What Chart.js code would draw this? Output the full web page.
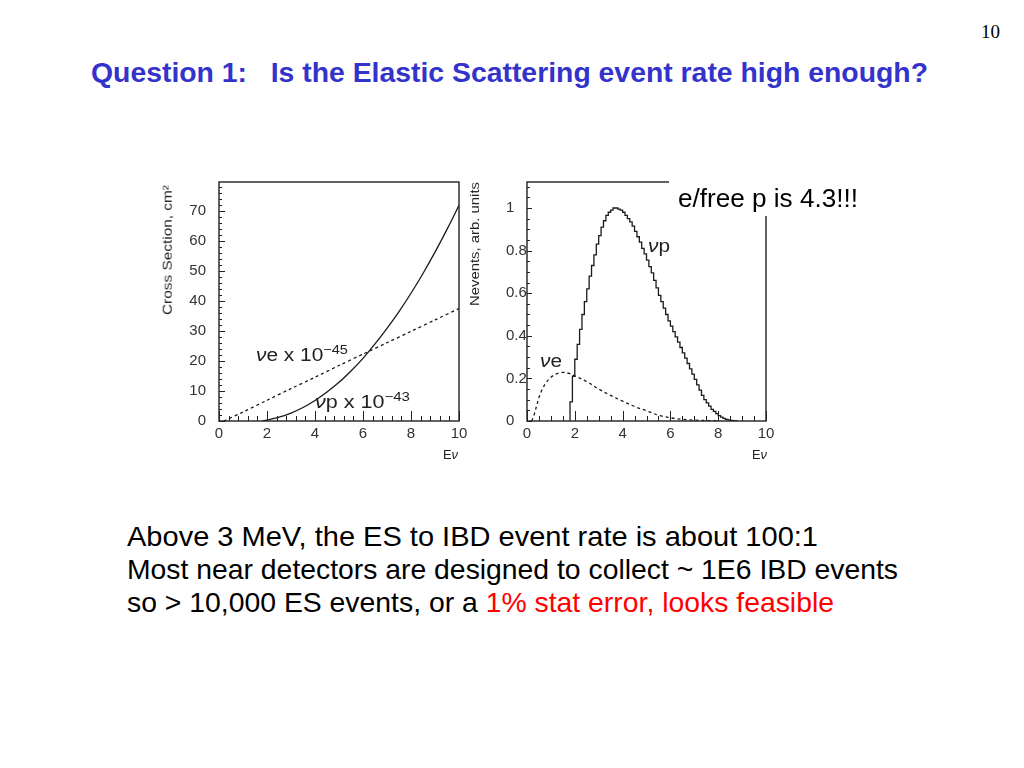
<!DOCTYPE html>
<html><head><meta charset="utf-8">
<script src="https://cdn.jsdelivr.net/npm/chart.js@4.4.1/dist/chart.umd.min.js"></script>
<style>
html,body{margin:0;padding:0;background:#fff;width:1024px;height:768px;overflow:hidden;font-family:"Liberation Sans",Arial,sans-serif;}
.abs{position:absolute;white-space:pre;line-height:1;}
.lab{color:#222;font-family:"Liberation Sans",Arial,sans-serif;}
.lab sup{vertical-align:baseline;position:relative;top:-0.55em;font-size:0.7em;}
.cw{position:absolute;}
</style></head><body>
<div class="abs" style="left:981px;top:22px;font-family:'Liberation Serif',serif;font-size:19px;color:#000;">10</div>
<div class="abs fit" data-w="837" style="left:91px;top:60px;font-size:27px;font-weight:bold;color:#3333cc;">Question 1:   Is the Elastic Scattering event rate high enough?</div>

<div class="cw" style="left:140px;top:172px;width:329px;height:300px;"><canvas id="cv1"></canvas></div>
<div class="cw" style="left:506px;top:172px;width:270px;height:300px;"><canvas id="cv2"></canvas></div>

<div class="abs" style="left:669px;top:168px;width:215px;height:48px;background:#fff;z-index:5;"></div>
<div class="abs fit" data-w="180" style="left:678px;top:185px;font-size:26px;color:#000;z-index:6;">e/free p is 4.3!!!</div>

<div class="abs lab fit" data-w="92" style="left:256px;top:346px;font-size:18px;"><i>ν</i>e x 10<sup>−45</sup></div>
<div class="abs lab fit" data-w="95" style="left:315px;top:393px;font-size:18px;"><i>ν</i>p x 10<sup>−43</sup></div>
<div class="abs lab fit" data-w="22" style="left:648px;top:237px;font-size:18px;"><i>ν</i>p</div>
<div class="abs lab fit" data-w="22" style="left:540px;top:352px;font-size:18px;"><i>ν</i>e</div>
<div class="abs lab fit" data-w="15" style="left:443px;top:448px;font-size:13px;">E<i>ν</i></div>
<div class="abs lab fit" data-w="15" style="left:752px;top:448px;font-size:13px;">E<i>ν</i></div>
<div class="abs lab rot" data-cx="167.5" data-cy="250" data-w="130" style="font-size:12px;">Cross Section, cm²</div>
<div class="abs lab rot" data-cx="475" data-cy="244" data-w="124" style="font-size:12px;">Nevents, arb. units</div>

<div class="abs fit" data-w="691" style="left:127px;top:523px;font-size:28px;color:#000;">Above 3 MeV, the ES to IBD event rate is about 100:1</div>
<div class="abs fit" data-w="771" style="left:127px;top:556px;font-size:28px;color:#000;">Most near detectors are designed to collect ~ 1E6 IBD events</div>
<div class="abs fit" data-w="707" style="left:127px;top:589px;font-size:28px;color:#000;">so &gt; 10,000 ES events, or a <span style="color:#ff0000">1% stat error, looks feasible</span></div>

<script>
// ---- Data ----
// Left panel: cross sections vs neutrino energy (MeV)
const xsecNuEEnergy = [0.2, 1, 2, 3, 4, 5, 6, 7, 8, 9, 10];
const xsecNuE       = [0, 3.0, 6.9, 10.8, 14.6, 18.5, 22.3, 26.1, 29.9, 33.7, 37.5];   // x 1e-45 cm^2
const xsecNuPEnergy = [1.8, 2.0, 2.5, 3.0, 3.5, 4.0, 4.5, 5.0, 5.5, 6.0, 6.5, 7.0, 7.5, 8.0, 8.5, 9.0, 9.5, 10.0];
const xsecNuP       = [0, 0.33, 1.26, 2.65, 4.51, 6.86, 9.67, 12.9, 16.7, 20.9, 25.7, 30.9, 36.5, 42.6, 49.2, 56.3, 63.9, 71.9]; // x 1e-43 cm^2

// Right panel: event spectra (arb. units)
const rateNuPEnergy = [1.8,1.8,1.9,2.0,2.1,2.2,2.3,2.4,2.5,2.6,2.7,2.8,2.9,3.0,3.1,3.2,3.3,3.4,3.5,3.6,3.7,3.8,3.9,4.0,4.1,4.2,4.3,4.4,4.5,4.6,4.7,4.8,4.9,5.0,5.1,5.2,5.3,5.4,5.5,5.6,5.7,5.8,5.9,6.0,6.1,6.2,6.3,6.4,6.5,6.6,6.7,6.8,6.9,7.0,7.1,7.2,7.3,7.4,7.5,7.6,7.7,7.8,7.9,8.0,8.1,8.2,8.3,8.4,8.5,8.6,8.7,8.8];
const rateNuP       = [0,0.09,0.21,0.29,0.36,0.43,0.50,0.56,0.62,0.68,0.73,0.78,0.83,0.87,0.91,0.94,0.965,0.98,0.99,1.0,1.0,0.995,0.99,0.98,0.965,0.95,0.935,0.915,0.89,0.865,0.84,0.81,0.785,0.755,0.725,0.695,0.66,0.625,0.59,0.56,0.53,0.50,0.47,0.445,0.42,0.395,0.37,0.345,0.32,0.295,0.27,0.245,0.22,0.195,0.17,0.145,0.12,0.10,0.085,0.07,0.055,0.045,0.035,0.025,0.018,0.012,0.008,0.005,0.003,0.002,0.001,0];
const rateNuEEnergy = [0.2,0.3,0.4,0.5,0.6,0.8,1.0,1.2,1.5,1.8,2.0,2.5,3.0,3.5,4.0,4.5,5.0,5.5,6.0,6.5,7.0,7.5,8.0];
const rateNuE       = [0,0.03,0.07,0.11,0.14,0.18,0.205,0.22,0.228,0.222,0.212,0.185,0.15,0.12,0.093,0.068,0.048,0.027,0.015,0.008,0.004,0.002,0.001];

const xTicksLabels = ['0','2','4','6','8','10'];

function pts(xs, ys){ return xs.map((x,i)=>({x:x, y:ys[i]})); }

const frameTicks = {
  id:'frameTicks',
  afterDraw(chart, args, o){
    const {ctx, chartArea:a, scales:{x,y}} = chart;
    ctx.save();
    ctx.strokeStyle = '#222';
    ctx.lineWidth = 1.4;
    ctx.strokeRect(a.left, a.top, a.right-a.left, a.bottom-a.top);
    ctx.lineWidth = 1;
    const n1 = Math.round((x.max - x.min)/o.xMinor);
    for (let i=0;i<=n1;i++){
      const v = x.min + i*o.xMinor;
      const r = v/o.xMajor; const major = Math.abs(r-Math.round(r))<1e-6;
      const px = Math.round(x.getPixelForValue(v))+0.5;
      ctx.beginPath(); ctx.moveTo(px, a.bottom); ctx.lineTo(px, a.bottom-(major?o.xMajorLen:o.xMinorLen)); ctx.stroke();
    }
    const n2 = Math.floor((y.max - y.min)/o.yMinor+1e-6);
    for (let i=0;i<=n2;i++){
      const v = y.min + i*o.yMinor;
      const r = v/o.yMajor; const major = Math.abs(r-Math.round(r))<1e-6;
      const py = Math.round(y.getPixelForValue(v))+0.5;
      ctx.beginPath(); ctx.moveTo(a.left, py); ctx.lineTo(a.left+(major?o.yMajorLen:o.yMinorLen), py); ctx.stroke();
    }
    ctx.restore();
  }
};

function baseOpts(cfg){
  return {
    responsive:true, maintainAspectRatio:false, animation:false,
    layout:{padding:{top:10,right:10,left:0,bottom:0}},
    plugins:{legend:{display:false}, tooltip:{enabled:false}, frameTicks:cfg.ticks},
    scales:{
      x:{type:'linear', min:0, max:10,
         grid:{display:false, drawTicks:false}, border:{display:false},
         ticks:{stepSize:2, padding:4, color:'#333', font:{family:'Liberation Sans', size:15},
                callback:(v)=> xTicksLabels[Math.round(v/2)] ?? ''},
         afterFit:(s)=>{ s.height = cfg.xHeight; s.paddingLeft = 0; s.paddingRight = 0; }},
      y:{type:'linear', min:0, max:cfg.yMax,
         grid:{display:false, drawTicks:false}, border:{display:false},
         ticks:{stepSize:cfg.yStep, includeBounds:false, padding:cfg.yPad, crossAlign:cfg.cross, color:'#333',
                font:{family:'Liberation Sans', size:15}, callback:cfg.yFmt},
         afterFit:(s)=>{ s.width = cfg.yWidth; s.paddingTop = 0; s.paddingBottom = 0; }}
    }
  };
}

const lineStyle = {showLine:true, pointRadius:0, borderColor:'#1a1a1a', borderWidth:1.3, fill:false};

new Chart(document.getElementById('cv1'), {
  type:'scatter',
  data:{datasets:[
    Object.assign({data:pts(xsecNuEEnergy, xsecNuE), borderDash:[3,3], tension:0.3}, lineStyle),
    Object.assign({data:pts(xsecNuPEnergy, xsecNuP), tension:0.3}, lineStyle)
  ]},
  options: baseOpts({yMax:79.7, yStep:10, yPad:13, cross:'near', yWidth:79, xHeight:51,
    yFmt:(v)=> v>75 ? '' : String(Math.round(v)),
    ticks:{xMinor:0.4, xMajor:2, xMajorLen:10, xMinorLen:5, yMinor:2, yMajor:10, yMajorLen:6, yMinorLen:3}}),
  plugins:[frameTicks]
});

new Chart(document.getElementById('cv2'), {
  type:'scatter',
  data:{datasets:[
    Object.assign({data:pts(rateNuEEnergy, rateNuE), borderDash:[3,3], tension:0.35}, lineStyle),
    Object.assign({data:pts(rateNuPEnergy, rateNuP), stepped:true}, lineStyle)
  ]},
  options: baseOpts({yMax:1.122, yStep:0.2, yPad:0, cross:'far', yWidth:21, xHeight:51,
    yFmt:(v)=> String(Math.round(v*10)/10),
    ticks:{xMinor:0.5, xMajor:2, xMajorLen:10, xMinorLen:5, yMinor:0.05, yMajor:0.2, yMajorLen:5, yMinorLen:3}}),
  plugins:[frameTicks]
});

// fit text widths
document.querySelectorAll('.fit').forEach(el=>{
  const w = el.getBoundingClientRect().width;
  const k = parseFloat(el.dataset.w)/w;
  el.style.transformOrigin = '0 0';
  el.style.transform = 'scaleX('+k+')';
});
document.querySelectorAll('.rot').forEach(el=>{
  const r = el.getBoundingClientRect();
  const k = parseFloat(el.dataset.w)/r.width;
  el.style.left = (parseFloat(el.dataset.cx) - r.width/2)+'px';
  el.style.top = (parseFloat(el.dataset.cy) - r.height/2)+'px';
  el.style.transformOrigin = '50% 50%';
  el.style.transform = 'rotate(-90deg) scaleX('+k+')';
});
</script>
</body></html>
